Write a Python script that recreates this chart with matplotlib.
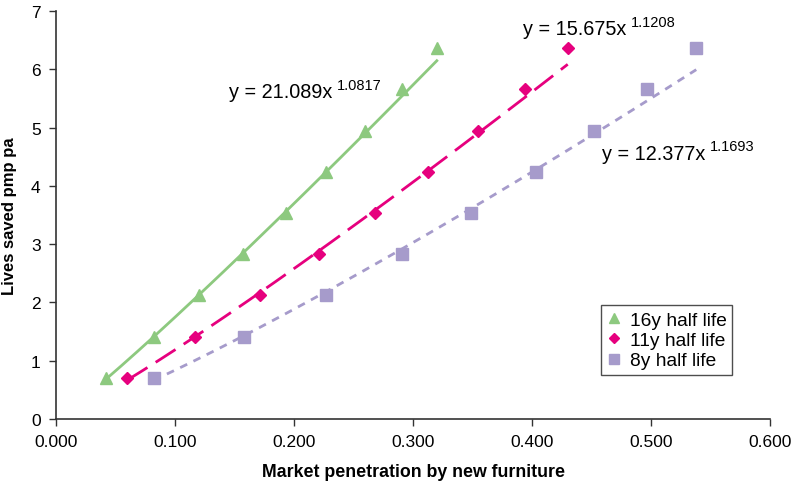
import matplotlib
matplotlib.use("Agg")
import matplotlib.pyplot as plt
import numpy as np

plt.rcParams['font.family'] = ['Liberation Sans', 'DejaVu Sans']

# Data
lives_saved = [0.71, 1.41, 2.12, 2.83, 3.54, 4.24, 4.95, 5.66, 6.36]
x_16y = [0.042, 0.082, 0.120, 0.157, 0.193, 0.227, 0.260, 0.291, 0.320]
x_11y = [0.060, 0.117, 0.171, 0.221, 0.268, 0.313, 0.355, 0.394, 0.430]
x_8y = [0.082, 0.158, 0.227, 0.291, 0.349, 0.403, 0.452, 0.497, 0.538]

labels = ["16y half life", "11y half life", "8y half life"]
# Power trendline coefficients shown on the chart: y = a * x^b
coef_a = [21.089, 15.675, 12.377]
coef_b = [1.0817, 1.1208, 1.1693]

x_ticks = [0.0, 0.1, 0.2, 0.3, 0.4, 0.5, 0.6]
y_ticks = [0, 1, 2, 3, 4, 5, 6, 7]

colors = ["#8DC97F", "#E6007E", "#A69BCB"]
markers = ["^", "D", "s"]
msizes = [8, 6, 8]
linestyles = ["-", (0, (8.5, 3.5)), (0, (2.8, 2.5))]

fig = plt.figure(figsize=(7.91, 4.85), dpi=100)
ax = fig.add_axes([0.0708, 0.134, 0.9027, 0.841])

series_x = [x_16y, x_11y, x_8y]
for xs, a, b, c, m, ms, ls, lab in zip(series_x, coef_a, coef_b, colors, markers,
                                       msizes, linestyles, labels):
    xs = np.array(xs)
    xf = np.linspace(xs.min(), xs.max(), 200)
    ax.plot(xf, a * xf ** b, color=c, lw=2.0, linestyle=ls, zorder=2)
    ax.plot(xs, lives_saved, linestyle="none", marker=m, markersize=ms,
            color=c, markeredgecolor=c, label=lab, zorder=3)

ax.set_xlim(0, 0.6)
ax.set_ylim(0, 7)
ax.set_xticks(x_ticks)
ax.set_xticklabels([f"{t:.3f}" for t in x_ticks])
ax.set_yticks(y_ticks)
ax.set_yticklabels([str(t) for t in y_ticks])
ax.tick_params(axis='both', direction='out', length=5, width=1, color='#333333',
               labelsize=12.5, pad=6)
for s in ['top', 'right']:
    ax.spines[s].set_visible(False)
for s in ['left', 'bottom']:
    ax.spines[s].set_color('#333333')
    ax.spines[s].set_linewidth(1.2)

ax.set_xlabel("Market penetration by new furniture", fontsize=12.8, fontweight='bold',
              labelpad=10)
ax.set_ylabel("Lives saved pmp pa", fontsize=12, fontweight='bold', labelpad=10)

# Trendline equations
eq_pos = [(0.1454, 5.52), (0.392, 6.60), (0.4585, 4.47)]
for (ex, ey), a, b in zip(eq_pos, coef_a, coef_b):
    t = ax.text(ex, ey, f"y = {a:.3f}x", fontsize=14.3, ha='left', va='baseline')
    ax.annotate(f"{b:.4f}", xy=(1, 1), xycoords=t, xytext=(3.5, 3.5),
                textcoords='offset points', fontsize=10.5, ha='left', va='top')

leg = ax.legend(loc='lower left', bbox_to_anchor=(0.763, 0.108), fontsize=13.8,
                frameon=True, fancybox=False, handlelength=0.8, handletextpad=0.4,
                borderpad=0.3, labelspacing=0.15, markerscale=0.9, borderaxespad=0)
leg.get_frame().set_edgecolor('#222222')
leg.get_frame().set_linewidth(1.0)

fig.savefig("out.png", dpi=100)
